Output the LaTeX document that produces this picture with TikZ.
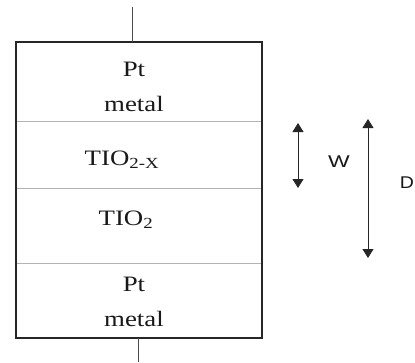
\documentclass[tikz,border=0pt]{standalone}
\usepackage{fontspec}
\setmainfont{Liberation Serif}
\newfontfamily\labelsans{Liberation Sans}
\usepackage{graphicx}
\usetikzlibrary{positioning,arrows.meta}
\newcommand{\wideText}[2][1.22]{\scalebox{#1}[1]{#2}}

\begin{document}
\begin{tikzpicture}[
            x=1pt, y=-1pt,
            layer/.style={rectangle, draw=gray!60, line width=0.6pt, minimum width=246pt, inner sep=0pt, outer sep=0pt},
            frame/.style={draw=black!85, line width=1.8pt},
            wire/.style={draw=black!70, line width=0.8pt},
            layertext/.style={font=\fontsize{22}{35}\selectfont, text=black!90, align=center},
            dimtext/.style={font=\labelsans\fontsize{17}{19}\selectfont, text=black!90},
            dimarrow/.style={>={Triangle[width=11pt,length=9pt]}, <->, line width=0.9pt, black!85}
        ]
            \useasboundingbox (0,0) rectangle (415,362);

            % Layers
            \node[layer, minimum height=80pt] (topPt) at (139,81.7) {};
            \node[layer, minimum height=66.6pt, below=0pt of topPt] (oxideX) {};
            \node[layer, minimum height=75pt, below=0pt of oxideX] (oxide) {};
            \node[layer, minimum height=74.7pt, below=0pt of oxide] (botPt) {};
            \draw[frame] (topPt.north west) rectangle (botPt.south east);

            % Layer labels
            \node[layertext] (topPtText) at (134,87) {\wideText{Pt}\\\wideText{metal}};
            \node[layertext] (oxideXText) at (122,160) {\wideText{TIO\textsubscript{2-X}}};
            \node[layertext] (oxideText) at (126,220) {\wideText{TIO\textsubscript{2}}};
            \node[layertext] (botPtText) at (134,302) {\wideText{Pt}\\\wideText{metal}};

            % Leads
            \coordinate (leadTop) at (132.7,6.7);
            \coordinate (leadBot) at (138,362);
            \draw[wire] (leadTop) -- (leadTop |- topPt.north);
            \draw[wire] (leadBot |- botPt.south) -- (leadBot);

            % Dimensions
            \coordinate (wStart) at (298,123);
            \coordinate (wEnd) at (298,188);
            \coordinate (dStart) at (368,119);
            \coordinate (dEnd) at (368,258);
            \draw[dimarrow] (wStart) -- (wEnd);
            \draw[dimarrow] (dStart) -- (dEnd);
            \node[dimtext] (wLabel) at (339,162) {\wideText[1.35]{W}};
            \node[dimtext] (dLabel) at (407,183) {\wideText[1.15]{D}};
        \end{tikzpicture}
\end{document}
